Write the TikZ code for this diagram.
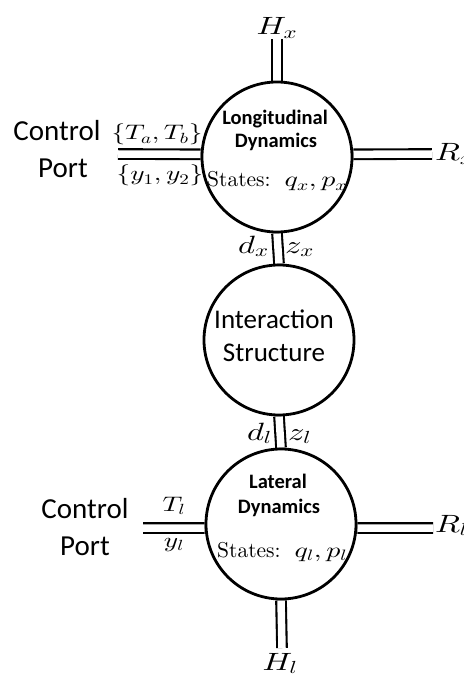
\RequirePackage{fix-cm}
\documentclass[tikz,border=0pt]{standalone}
\usepackage{graphicx}
\usepackage{fontspec}
\setsansfont{Carlito}
\newfontfamily\tenrm{lmroman10-regular}[Extension=.otf]
% math glyphs from the 10pt designs at every size
\DeclareFontShape{OML}{cmm}{m}{it}{<->cmmi10}{\skewchar\font'177}
\DeclareFontShape{OMS}{cmsy}{m}{n}{<->cmsy10}{\skewchar\font'60}
\DeclareFontShape{OT1}{cmr}{m}{n}{<->cmr10}{}
\usetikzlibrary{backgrounds}
\newcommand{\widen}[1]{\scalebox{1.3}[1]{#1}}

\begin{document}
\begin{tikzpicture}[x=1pt,y=-1pt,
  subsys/.style={circle, draw, line width=2.8pt, minimum size=150pt, inner sep=0pt},
  dbl/.style={double distance=7.5pt, line width=2.1pt},
  ctrl/.style={font=\sffamily\fontsize{29}{35}\selectfont, anchor=base, inner sep=0pt},
  title/.style={font=\sffamily\bfseries\fontsize{20.5}{24}\selectfont, anchor=base, inner sep=0pt},
  plain/.style={font=\sffamily\fontsize{27}{32}\selectfont, anchor=base, inner sep=0pt},
  states/.style={font=\tenrm\fontsize{21.5}{26}\selectfont, anchor=base west, inner sep=0pt},
  big/.style={font=\fontsize{25}{30}\selectfont, anchor=base, inner sep=0pt},
  small/.style={font=\fontsize{21}{25}\selectfont, anchor=base, inner sep=0pt}]
\useasboundingbox (0,0) rectangle (463,676);

% the three subsystems
\node[subsys] (long)  at (277,157) {};
\node[subsys] (inter) at (279,340) {};
\node[subsys] (lat)   at (281,524) {};

% free ends of the ports
\coordinate (hxend) at (277,39);
\coordinate (cpx)   at (118,154);
\coordinate (rxend) at (432,154);
\coordinate (cpl)   at (143,528);
\coordinate (rlend) at (433,528);
\coordinate (hlend) at (282,648);

% power ports (bonds)
\begin{scope}[on background layer]
  \draw[dbl] (hxend) -- (long.north);
  \draw[dbl] (cpx) -- (long.178);
  \draw[dbl] (long.2) -- (rxend);
  \draw[dbl] (long.south) -- (inter.north);
  \draw[dbl] (inter.south) -- (lat.north);
  \draw[dbl] (cpl) -- (lat.183);
  \draw[dbl] (lat.-3) -- (rlend);
  \draw[dbl] (lat.south) -- (hlend);
\end{scope}

% longitudinal dynamics
\node[title]  (lt1) at (275,125) {Longitudinal};
\node[title]  (lt2) at (276,148) {Dynamics};
\node[states] (lst) at (207,187) {States:\hspace{14pt}\widen{$q_x,p_x$}};
\node[big]    (hx)  at (277,35)  {\widen{$H_x$}};
\node[big, anchor=base west] (rx) at (435,161) {\widen{$R_x$}};
\node[small]  (tab) at (157,140) {\widen{$\{T_a,T_b\}$}};
\node[small]  (yab) at (160,181) {\widen{$\{y_1,y_2\}$}};
\node[ctrl]   (c1a) at (57,141)  {Control};
\node[ctrl]   (c1b) at (63,178)  {Port};

% interaction structure
\node[big, anchor=base east] (dx) at (269,253) {\widen{$d_x$}};
\node[big, anchor=base west] (zx) at (285,253) {\widen{$z_x$}};
\node[plain] (it1) at (274,328) {Interaction};
\node[plain] (it2) at (274,361) {Structure};
\node[big, anchor=base east] (dl) at (272,440) {\widen{$d_l$}};
\node[big, anchor=base west] (zl) at (288,440) {\widen{$z_l$}};

% lateral dynamics
\node[title]  (at1) at (278,488) {Lateral};
\node[title]  (at2) at (279,513) {Dynamics};
\node[states] (ast) at (217,557) {States:\hspace{14pt}\widen{$q_l,p_l$}};
\node[small]  (tl)  at (174,511) {\widen{$T_l$}};
\node[small]  (yl)  at (174,547) {\widen{$y_l$}};
\node[big, anchor=base west] (rl) at (435,532) {\widen{$R_l$}};
\node[big]    (hl)  at (280,670) {\widen{$H_l$}};
\node[ctrl]   (c2a) at (85,518)  {Control};
\node[ctrl]   (c2b) at (85,555)  {Port};
\end{tikzpicture}
\end{document}
